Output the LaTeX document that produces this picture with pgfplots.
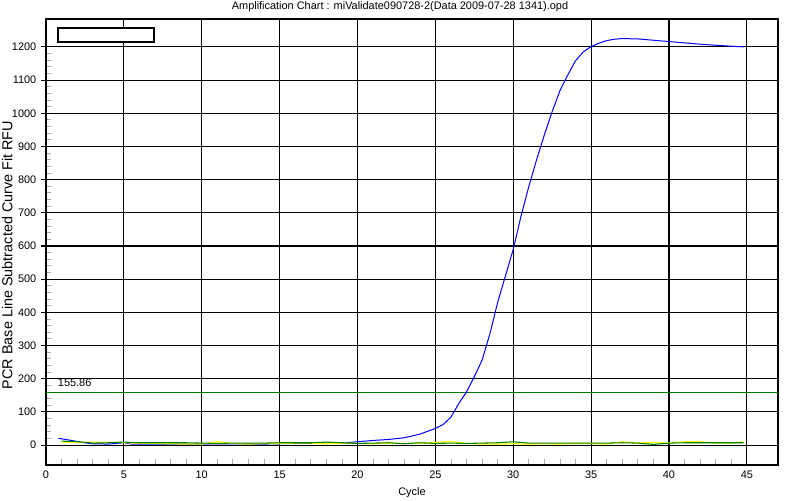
\documentclass[border=0pt]{standalone}
\usepackage{fontspec}
\setmainfont{Liberation Sans}
\usepackage{pgfplots}
\pgfplotsset{compat=1.18}
\definecolor{thr}{RGB}{0,128,0}
\definecolor{grn}{RGB}{0,128,0}
\definecolor{ylw}{RGB}{255,255,0}
\begin{document}
\begin{tikzpicture}
\path[use as bounding box] (-34.5pt,-26.25pt) rectangle (565.5pt,348.75pt);
\begin{axis}[
  scale only axis,
  width=549pt, height=334.5pt,
  at={(0,0)}, anchor=south west,
  xmin=0, xmax=47, ymin=-60, ymax=1284,
  xtick={0,5,...,45}, ytick={0,100,...,1200},
  minor x tick num=4, minor y tick num=4,
  grid=major,
  major grid style={black, line width=0.8pt},
  axis line style={black, line width=0.8pt},
  tick pos=left,
  xtick align=inside, ytick align=outside,
  major tick length=3.75pt, minor tick length=3.5pt,
  major tick style={black, line width=0.8pt},
  minor tick style={gray!70, line width=0.6pt},
  minor y tick style={xshift=3.5pt},
  minor x tick style={yshift=1pt},
  tick label style={font=\fontsize{8.2pt}{9pt}\selectfont},
  /pgf/number format/assume math mode=true,
  /pgf/number format/1000 sep={},
  xticklabel style={yshift=-1pt},
  clip=true,
]
% threshold
\addplot[thr, line width=0.7pt] coordinates {(0,160) (47,160)};
% blue amplification curve
\addplot[blue, line width=0.75pt] coordinates {
(0.8,20) (1,19) (1.5,15) (2,11) (2.5,7) (3,4) (4,3) (5,7) (5.5,3) (6,3) (7,3) (8,3) (9,3) (10,3)
(11,4) (12,4) (13,3) (14,3) (15,4) (16,5) (17,5) (18,6) (19,7) (19.5,8) (20,10) (21,14) (22,17)
(23,22) (24,33) (25,50) (25.5,62) (26,84) (26.5,125) (27,160) (27.5,206) (28,256) (28.5,335)
(29,430) (29.5,510) (30,590) (30.5,690) (31,779) (31.5,860) (32,935) (32.5,1005) (33,1068)
(33.5,1115) (34,1158) (34.5,1185) (35,1201) (35.5,1211) (36,1219) (36.5,1223) (37,1225)
(38,1224) (39,1220) (40,1216) (41,1212) (42,1208) (43,1205) (44,1202) (44.8,1200)
};
% yellow trace
\addplot[ylw, line width=0.9pt] coordinates {
(1,9) (2,8) (3,9) (4,9) (5,7) (6,6) (7,5) (8,4) (9,3) (10,3) (11,10) (12,5) (13,3) (14,5) (15,5)
(16,6) (17,6) (18,4) (19,6) (20,5) (21,4) (22,6) (23,5) (24,6) (25,8) (26,11) (27,5) (28,3) (29,3)
(30,4) (31,3) (32,4) (33,3) (34,5) (35,5) (36,3) (37,10) (38,6) (39,8) (40,6) (41,10) (42,10)
(43,6) (44,6) (44.8,10)
};
% green trace
\addplot[grn, line width=0.8pt] coordinates {
(1,12) (2,10) (3,6) (4,7) (5,9) (6,7) (7,7) (8,7) (9,7) (10,6) (11,5) (12,6) (13,6) (14,6) (15,7)
(16,7) (17,7) (18,9) (19,7) (20,5) (21,6) (22,7) (23,4) (24,7) (25,5) (26,6) (27,5) (28,6) (29,7)
(30,10) (31,6) (32,6) (33,6) (34,6) (35,6) (36,6) (37,7) (38,6) (39,2) (40,6) (41,7) (42,7)
(43,7) (44,7) (44.8,7)
};
\node[anchor=west, inner sep=0pt, font=\fontsize{8.2pt}{9pt}\selectfont] at (axis cs:0.75,187) {155.86};
\draw[black, line width=0.8pt, fill=white] (rel axis cs:0.0164,0.9484) rectangle (rel axis cs:0.1475,0.9798);
\end{axis}
\node[font=\fontsize{8.2pt}{9pt}\selectfont] at (265.5pt,343.5pt) {Amplification Chart : miValidate090728-2(Data 2009-07-28 1341).opd};
\node[font=\fontsize{8.2pt}{9pt}\selectfont] at (274.5pt,-21pt) {Cycle};
\node[font=\fontsize{10.8pt}{12pt}\selectfont, rotate=90] at (-29pt,157.5pt) {PCR Base Line Subtracted Curve Fit RFU};
\end{tikzpicture}
\end{document}
